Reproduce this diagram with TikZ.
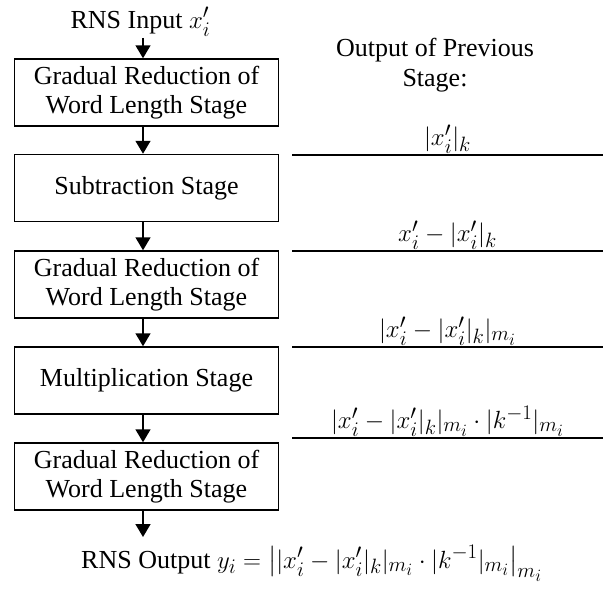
\documentclass[tikz,border=0pt]{standalone}
\usepackage{amsmath}
\usepackage{fontspec}
\setmainfont{Liberation Serif}
\usetikzlibrary{arrows.meta}
\DeclareMathSizes{30}{30}{22.5}{17}
\newcommand{\mth}[1]{{\fontsize{30}{34}\selectfont$#1$}}
\begin{document}
\begin{tikzpicture}[x=1pt,y=-1pt,
  stagebox/.style={draw, line width=1.5pt, minimum width=264pt, minimum height=67pt,
    align=center, inner sep=0pt, font=\fontsize{26}{29}\selectfont},
  flow/.style={line width=1.5pt, -{Triangle[width=15pt,length=13pt]}},
  rulel/.style={line width=1.5pt},
  lbl/.style={font=\fontsize{26}{30}\selectfont, inner sep=0pt, anchor=south},
  txt/.style={font=\fontsize{26}{30}\selectfont, inner sep=1pt}]
\useasboundingbox (0,0) rectangle (612,590);

% left column
\node[txt, anchor=base] (in) at (140.5,28) {RNS Input \mth{x_i'}};
\node[stagebox] (b1) at (146.5,92.5) {Gradual Reduction of\\Word Length Stage};
\node[stagebox] (b2) at (146.5,188) {Subtraction Stage};
\node[stagebox] (b3) at (146.5,284.5) {Gradual Reduction of\\Word Length Stage};
\node[stagebox] (b4) at (146.5,380.5) {Multiplication Stage};
\node[stagebox] (b5) at (146.5,476.5) {Gradual Reduction of\\Word Length Stage};
\node[txt, anchor=base west] (out) at (80,568)
  {RNS Output \mth{y_i = \bigl||x_i' - |x_i'|_k|_{m_i}\cdot|k^{-1}|_{m_i}\bigr|_{m_i}}};
\coordinate (outtop) at (143,537);

\draw[flow] (in.south -| 143,0) -- (b1.north -| 143,0);
\draw[flow] (b1.south -| 143,0) -- (b2.north -| 143,0);
\draw[flow] (b2.south -| 143,0) -- (b3.north -| 143,0);
\draw[flow] (b3.south -| 143,0) -- (b4.north -| 143,0);
\draw[flow] (b4.south -| 143,0) -- (b5.north -| 143,0);
\draw[flow] (b5.south -| 143,0) -- (outtop);

% right column
\node[txt, align=center, inner sep=0pt] (hdr) at (435,65) {Output of Previous\\Stage:};

\coordinate (r1a) at (292,155); \coordinate (r1b) at (603,155);
\coordinate (r2a) at (292,251); \coordinate (r2b) at (603,251);
\coordinate (r3a) at (292,347); \coordinate (r3b) at (603,347);
\coordinate (r4a) at (292,438); \coordinate (r4b) at (603,438);
\draw[rulel] (r1a) -- (r1b);
\draw[rulel] (r2a) -- (r2b);
\draw[rulel] (r3a) -- (r3b);
\draw[rulel] (r4a) -- (r4b);

\node[lbl] (l1) at (447.5,154) {\mth{|x_i'|_k}};
\node[lbl] (l2) at (447.5,250) {\mth{x_i' - |x_i'|_k}};
\node[lbl] (l3) at (447.5,346) {\mth{|x_i' - |x_i'|_k|_{m_i}}};
\node[lbl] (l4) at (447.5,437) {\mth{|x_i' - |x_i'|_k|_{m_i}\cdot|k^{-1}|_{m_i}}};
\end{tikzpicture}
\end{document}
